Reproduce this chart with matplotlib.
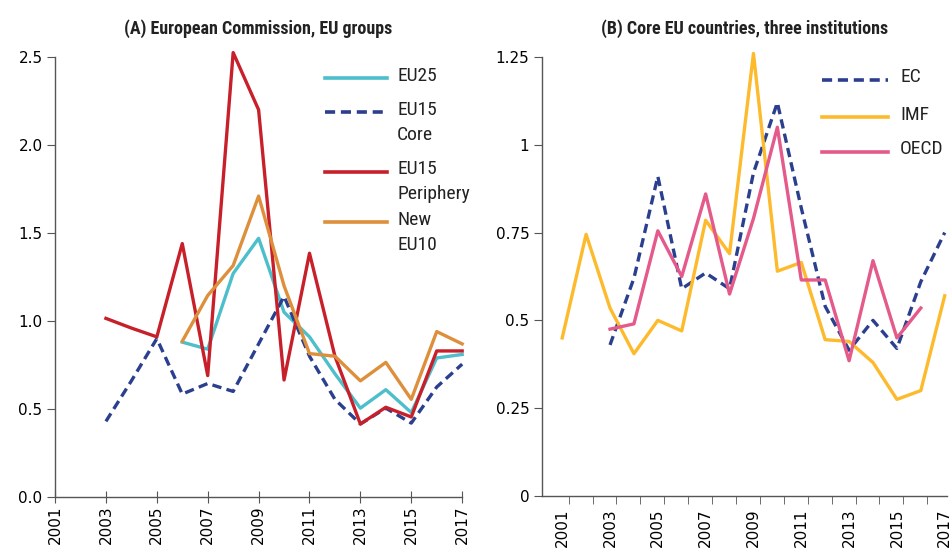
import numpy as np
import matplotlib
matplotlib.use('Agg')
import matplotlib.pyplot as plt
from matplotlib.lines import Line2D
from matplotlib import font_manager

years = list(range(2001, 2018))

# Panel A: European Commission, EU groups (None = no value)
eu25 = [None, None, None, None, None, 0.88, 0.84, 1.27, 1.47, 1.05, 0.91, 0.70, 0.505, 0.61, 0.48, 0.79, 0.81]
eu15_core = [None, None, 0.43, 0.66, 0.90, 0.585, 0.645, 0.60, 0.87, 1.14, 0.80, 0.555, 0.415, 0.505, 0.42, 0.625, 0.755]
eu15_periphery = [None, None, 1.015, 0.96, 0.91, 1.44, 0.69, 2.525, 2.20, 0.665, 1.385, 0.80, 0.415, 0.51, 0.455, 0.83, 0.83]
new_eu10 = [None, None, None, None, None, 0.885, 1.145, 1.315, 1.71, 1.20, 0.815, 0.80, 0.66, 0.765, 0.555, 0.94, 0.87]

# Panel B: core EU countries, three institutions
ec = [None, None, 0.43, 0.62, 0.91, 0.59, 0.635, 0.59, 0.92, 1.12, 0.82, 0.54, 0.415, 0.50, 0.42, 0.61, 0.75]
imf = [0.45, 0.745, 0.535, 0.405, 0.50, 0.47, 0.785, 0.69, 1.26, 0.64, 0.665, 0.445, 0.44, 0.38, 0.275, 0.30, 0.57]
oecd = [None, None, 0.475, 0.49, 0.755, 0.625, 0.86, 0.575, 0.79, 1.05, 0.615, 0.615, 0.385, 0.67, 0.45, 0.535, None]

label_years = list(range(2001, 2018, 2))

NAVY = '#2B3F8F'
CYAN = '#4CBFCB'
RED = '#C8202A'
ORANGE = '#DE8F3C'
YELLOW = '#FDBA2C'
PINK = '#E45A8A'
AXCOL = '#555555'
DASH = (0, (2.8, 1.6))

# condensed face for titles and legend, if there is one
names = {f.name for f in font_manager.fontManager.ttflist}
cond_stretch = 'condensed'
narrow = ['DejaVu Sans']
for cand in ['Liberation Sans Narrow', 'Roboto Condensed', 'Open Sans Condensed']:
    if cand in names:
        narrow = [cand, 'DejaVu Sans']
        break


def arr(v):
    return np.array([np.nan if x is None else x for x in v], dtype=float)


def style_axes(ax):
    for s in ['top', 'right']:
        ax.spines[s].set_visible(False)
    for s in ['left', 'bottom']:
        ax.spines[s].set_color(AXCOL)
        ax.spines[s].set_linewidth(1.0)
    ax.tick_params(axis='y', direction='out', length=6, color=AXCOL, labelsize=11, pad=3)


def add_legend(ax, entries, x0, x1, xt, ys):
    for (label, color, ls), y in zip(entries, ys):
        ax.add_line(Line2D([x0, x1], [y, y], transform=ax.transAxes, color=color,
                           lw=2.6, ls=ls, clip_on=False))
        ax.text(xt, y + 0.026, label, transform=ax.transAxes, va='top', ha='left',
                fontsize=14, family=narrow, stretch=cond_stretch, linespacing=1.5,
                color='#222222')


fig = plt.figure(figsize=(9.49, 5.48), dpi=100)
axA = fig.add_axes([0.058, 0.093, 0.429, 0.803])
axB = fig.add_axes([0.571, 0.095, 0.427, 0.801])

# ---- Panel A
x = np.array(years)
axA.plot(x, arr(eu25), color=CYAN, lw=2.4, clip_on=False)
axA.plot(x, arr(eu15_core), color=NAVY, lw=2.4, ls=DASH, clip_on=False)
axA.plot(x, arr(eu15_periphery), color=RED, lw=2.4, clip_on=False)
axA.plot(x, arr(new_eu10), color=ORANGE, lw=2.4, clip_on=False)
axA.set_xlim(2001, 2017)
axA.set_ylim(0, 2.5)
axA.set_yticks([0, 0.5, 1.0, 1.5, 2.0, 2.5])
axA.set_yticklabels(['0.0', '0.5', '1.0', '1.5', '2.0', '2.5'])
axA.set_xticks(label_years)
axA.set_xticklabels([str(y) for y in label_years], rotation=90)
style_axes(axA)
axA.tick_params(axis='x', direction='inout', length=8, color=AXCOL, labelsize=11, pad=2)
axA.set_title('(A) European Commission, EU groups', fontsize=13, fontweight='bold',
              family=narrow, stretch=cond_stretch, pad=17, color='#222222')
add_legend(axA, [('EU25', CYAN, '-'), ('EU15\nCore', NAVY, DASH),
                 ('EU15\nPeriphery', RED, '-'), ('New\nEU10', ORANGE, '-')],
           0.663, 0.816, 0.840, [0.952, 0.875, 0.739, 0.625])

# ---- Panel B
axB.plot(x, arr(ec), color=NAVY, lw=2.4, ls=DASH, clip_on=False)
axB.plot(x, arr(imf), color=YELLOW, lw=2.4, clip_on=False)
axB.plot(x, arr(oecd), color=PINK, lw=2.4, clip_on=False)
axB.set_xlim(2000.15, 2017.1)
axB.set_ylim(0, 1.25)
axB.set_yticks([0, 0.25, 0.5, 0.75, 1.0, 1.25])
axB.set_yticklabels(['0', '0.25', '0.5', '0.75', '1', '1.25'])
axB.set_xticks(label_years)
axB.set_xticklabels([str(y) for y in label_years], rotation=90)
axB.set_xticks(np.arange(2001.27, 2017, 1), minor=True)
style_axes(axB)
axB.tick_params(axis='x', which='major', length=0, labelsize=11, pad=9)
axB.tick_params(axis='x', which='minor', direction='out', length=6, color=AXCOL)
axB.set_title('(B) Core EU countries, three institutions', fontsize=13, fontweight='bold',
              family=narrow, stretch=cond_stretch, pad=17, color='#222222')
add_legend(axB, [('EC', NAVY, DASH), ('IMF', YELLOW, '-'), ('OECD', PINK, '-')],
           0.691, 0.854, 0.884, [0.948, 0.863, 0.784])

fig.savefig('out.png', dpi=100)
